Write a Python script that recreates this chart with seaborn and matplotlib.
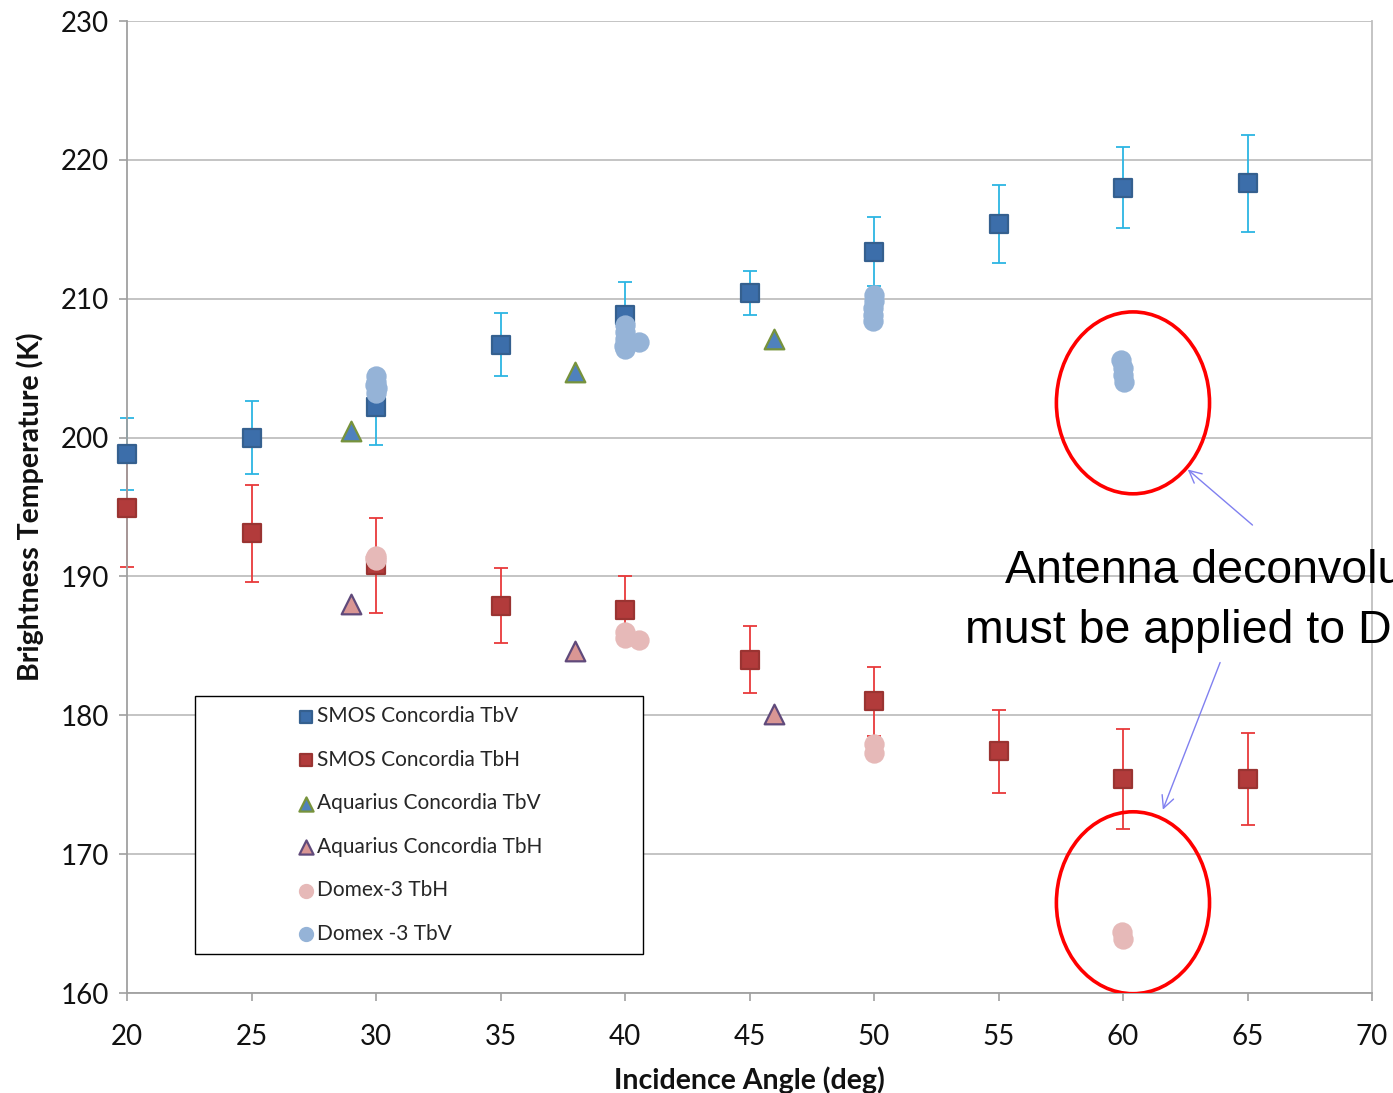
import matplotlib
matplotlib.use("Agg")
import matplotlib.pyplot as plt
from matplotlib.patches import Ellipse, Rectangle
import numpy as np
import pandas as pd
import seaborn as sns

# ---- data -------------------------------------------------------------
smos_angle = [20, 25, 30, 35, 40, 45, 50, 55, 60, 65]
smos_tbv = [198.8, 200.0, 202.2, 206.7, 208.8, 210.4, 213.4, 215.4, 218.0, 218.3]
smos_tbv_err = [2.6, 2.6, 2.7, 2.3, 2.4, 1.6, 2.5, 2.8, 2.9, 3.5]
smos_tbh = [194.9, 193.1, 190.8, 187.9, 187.6, 184.0, 181.0, 177.4, 175.4, 175.4]
smos_tbh_err = [4.2, 3.5, 3.4, 2.7, 2.4, 2.4, 2.5, 3.0, 3.6, 3.3]

aq_angle = [29, 38, 46]
aq_tbv = [200.5, 204.7, 207.1]
aq_tbh = [188.0, 184.6, 180.1]

domex_v_angle = [30.0, 30.0, 30.05, 30.0, 29.95,
                 40.0, 40.0, 40.0, 39.95, 40.0, 40.55,
                 50.0, 50.0, 49.95, 49.95, 49.95,
                 59.9, 60.0, 60.0, 60.05]
domex_tbv = [204.4, 204.0, 203.6, 203.2, 203.8,
             208.1, 207.6, 207.1, 206.6, 206.4, 206.9,
             210.3, 209.8, 209.3, 208.8, 208.4,
             205.6, 205.0, 204.5, 204.0]
domex_h_angle = [30.0, 30.0, 29.95,
                 40.0, 40.0, 40.55,
                 50.0, 50.0,
                 59.95, 60.0]
domex_tbh = [191.5, 191.2, 191.3,
             186.0, 185.6, 185.4,
             177.9, 177.3,
             164.4, 163.9]

x_ticks = [20, 25, 30, 35, 40, 45, 50, 55, 60, 65, 70]
y_ticks = [160, 170, 180, 190, 200, 210, 220, 230]

# ---- styling ------------------------------------------------------------
sns.set_theme(style="white")
plt.rcParams["font.family"] = ["Lato", "DejaVu Sans"]

fig = plt.figure(figsize=(13.93, 10.93), dpi=100)
ax = fig.add_axes([127 / 1393, 1 - 993 / 1093, 1245 / 1393, 972 / 1093])

grid_c = "#BFBFBF"
for y in y_ticks:
    ax.axhline(y, color=grid_c, lw=1.3, zorder=0)

# error bars
for ys, err, col in [(smos_tbv, smos_tbv_err, "#2CB5E3"),
                     (smos_tbh, smos_tbh_err, "#E8393A")]:
    eb = ax.errorbar(smos_angle, ys, yerr=err, fmt="none", ecolor=col,
                     elinewidth=1.3, capsize=5, capthick=1.3, zorder=2)
    for art in eb.lines[1] + eb.lines[2]:
        art.set_clip_on(False)

series = [
    ("SMOS Concordia TbV", smos_angle, smos_tbv, "s", "#3C6EAA", "#35608F", 165),
    ("SMOS Concordia TbH", smos_angle, smos_tbh, "s", "#B23B3B", "#9A3432", 165),
    ("Aquarius Concordia TbV", aq_angle, aq_tbv, "^", "#4F81BD", "#77933C", 200),
    ("Aquarius Concordia TbH", aq_angle, aq_tbh, "^", "#D99694", "#604A7B", 200),
    ("Domex-3 TbH", domex_h_angle, domex_tbh, "o", "#E6B9B8", "#E6B9B8", 170),
    ("Domex -3 TbV", domex_v_angle, domex_tbv, "o", "#95B3D7", "#95B3D7", 170),
]
for label, xs, ys, mk, fc, ec, s in series:
    df = pd.DataFrame({"angle": xs, "tb": ys})
    sns.scatterplot(data=df, x="angle", y="tb", marker=mk, color=fc,
                    edgecolor=ec, linewidth=1.6, s=s, ax=ax, label=label,
                    zorder=3)
for coll in ax.collections:
    coll.set_clip_on(False)

ax.set_xlim(20, 70)
ax.set_ylim(160, 230)
ax.set_xticks(x_ticks)
ax.set_yticks(y_ticks)
ax.tick_params(axis="both", which="both", direction="out", length=6,
               width=1.2, color="#A0A0A0", labelsize=20, labelcolor="#111111",
               left=True, bottom=True)
ax.tick_params(axis="y", pad=7)
ax.tick_params(axis="x", pad=16)

for side in ["left", "bottom"]:
    ax.spines[side].set_color("#A0A0A0")
    ax.spines[side].set_linewidth(1.3)
ax.spines["top"].set_visible(False)
ax.spines["right"].set_color(grid_c)
ax.spines["right"].set_linewidth(1.3)

ax.set_xlabel("Incidence Angle (deg)", fontsize=20.5, fontweight="bold",
              color="#111111", labelpad=12)
ax.set_ylabel("Brightness Temperature (K)", fontsize=20.5, fontweight="bold",
              color="#111111", labelpad=12)

# legend with a fixed frame
box_x0, box_y0 = (195 - 127) / 1245, (993 - 954) / 972
box_x1, box_y1 = (643 - 127) / 1245, (993 - 696) / 972
ax.add_patch(Rectangle((box_x0, box_y0), box_x1 - box_x0, box_y1 - box_y0,
                       transform=ax.transAxes, fill=True, facecolor="white",
                       edgecolor="black", lw=1.0, zorder=4))
leg = ax.legend(loc="center",
                bbox_to_anchor=((box_x0 + box_x1) / 2, (box_y0 + box_y1) / 2),
                frameon=False, fontsize=15, labelspacing=1.13,
                handletextpad=0.0, handlelength=1.0, markerscale=0.72,
                borderpad=0)
leg.set_zorder(5)

# highlight the 60 deg Domex-3 points
for cy in [202.5, 166.5]:
    ax.add_patch(Ellipse((60.4, cy), width=6.15, height=13.1, fill=False,
                         edgecolor="#FF0000", lw=2.6, zorder=6))

arrow_kw = dict(arrowstyle="->", color="#8080F0", lw=1.0,
                mutation_scale=22, shrinkA=0, shrinkB=0)
ax.annotate("", xy=(62.6, 197.7), xytext=(65.2, 193.7),
            arrowprops=arrow_kw, annotation_clip=False, zorder=6)
ax.annotate("", xy=(61.6, 173.2), xytext=(63.9, 183.8),
            arrowprops=arrow_kw, annotation_clip=False, zorder=6)

note_font = ["Liberation Sans", "DejaVu Sans"]
fig.text(1005 / 1393, 1 - 583 / 1093, "Antenna deconvolution",
         fontsize=33.5, family=note_font, va="baseline", ha="left",
         color="black", zorder=7)
fig.text(965 / 1393, 1 - 643 / 1093, "must be applied to Domex",
         fontsize=33.5, family=note_font, va="baseline", ha="left",
         color="black", zorder=7)

fig.savefig("out.png", dpi=100)
